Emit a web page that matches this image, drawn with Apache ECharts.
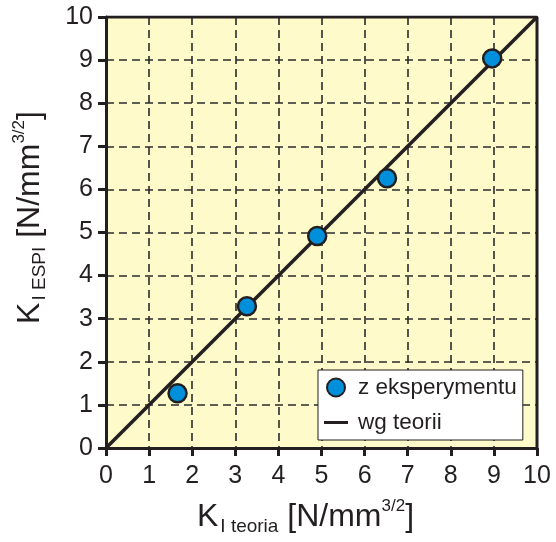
<!DOCTYPE html>
<html>
<head>
<meta charset="utf-8">
<script src="https://cdn.jsdelivr.net/npm/echarts@6/dist/echarts.min.js"></script>
<style>
    html, body { margin: 0; padding: 0; background: #fff; }
    #chart { width: 556px; height: 542px; }
</style>
</head>
<body>
<div id="chart"></div>
<script>
// measured points (x = theory, y = ESPI)
const expX = [1.66, 3.27, 4.9, 6.52, 8.96];
const expY = [1.27, 3.29, 4.92, 6.26, 9.04];
// theory line y = x
const theoryX = [0, 10];
const theoryY = [0, 10];
const seriesNames = ['z eksperymentu', 'wg teorii'];

const ink = '#231f20';
const font = 'Liberation Sans, Arial, sans-serif';

const chart = echarts.init(document.getElementById('chart'));

const nameRich = {
    k: { fontSize: 32, fontFamily: font, color: ink, lineHeight: 38 },
    sub: { fontSize: 19, fontFamily: font, color: ink, verticalAlign: 'bottom', lineHeight: 36, padding: [0, 0, 0, 2] },
    sup: { fontSize: 17, fontFamily: font, color: ink, verticalAlign: 'top', lineHeight: 38 }
};

chart.setOption({
    animation: false,
    grid: {
        left: 106,
        top: 17,
        width: 431,
        height: 431,
        show: true,
        backgroundColor: '#fffaca',
        borderWidth: 0
    },
    legend: {
        orient: 'vertical',
        left: 318,
        top: 370,
        padding: [6, 6, 6, 6],
        itemGap: 12,
        itemWidth: 24,
        itemHeight: 18,
        backgroundColor: '#fff',
        borderColor: ink,
        borderWidth: 1,
        textStyle: { fontSize: 22.5, fontFamily: font, color: ink, padding: [0, 0, 0, 5] },
        data: [
            { name: seriesNames[0], icon: 'circle' },
            { name: seriesNames[1], icon: 'path://M0,0 L24,0 L24,3 L0,3 Z' }
        ]
    },
    xAxis: {
        type: 'value',
        min: 0,
        max: 10,
        interval: 1,
        name: '{k|K}{sub|I teoria}{k| [N/mm}{sup|3/2}{k|]}',
        nameLocation: 'middle',
        nameGap: 50,
        nameTextStyle: { rich: nameRich, padding: [0, 32, 0, 0] },
        axisLine: { show: true, onZero: false, lineStyle: { color: ink, width: 3 } },
        axisTick: { show: true, inside: false, length: 8, lineStyle: { color: ink, width: 3 } },
        axisLabel: { fontSize: 25, fontFamily: font, color: ink, margin: 16 },
        splitLine: { show: true, lineStyle: { color: '#2b2b2b', width: 1.6, type: [8, 5] } }
    },
    yAxis: {
        type: 'value',
        min: 0,
        max: 10,
        interval: 1,
        name: '{k|K}{sub|I ESPI}{k| [N/mm}{sup|3/2}{k|]}',
        nameLocation: 'middle',
        nameRotate: 90,
        nameGap: 57,
        nameTextStyle: { rich: nameRich, padding: [0, 0, 0, 30] },
        axisLine: { show: true, onZero: false, lineStyle: { color: ink, width: 3 } },
        axisTick: { show: true, inside: false, length: 8, lineStyle: { color: ink, width: 3 } },
        axisLabel: { fontSize: 25, fontFamily: font, color: ink, margin: 13 },
        splitLine: { show: true, lineStyle: { color: '#2b2b2b', width: 1.6, type: [8, 5] } }
    },
    series: [
        {
            name: seriesNames[1],
            type: 'line',
            symbol: 'none',
            lineStyle: { color: ink, width: 3.5 },
            itemStyle: { color: ink },
            data: theoryX.map((x, i) => [x, theoryY[i]]),
            z: 2
        },
        {
            name: seriesNames[0],
            type: 'scatter',
            symbol: 'circle',
            symbolSize: 18,
            itemStyle: { color: '#008fdb', borderColor: ink, borderWidth: 2.5, opacity: 1 },
            data: expX.map((x, i) => [x, expY[i]]),
            z: 3
        },
        {
            // frame on top and right
            type: 'line',
            silent: true,
            symbol: 'none',
            lineStyle: { color: ink, width: 3 },
            data: [[0, 10], [10, 10], [10, 0]],
            z: 1
        }
    ]
});
</script>
</body>
</html>
